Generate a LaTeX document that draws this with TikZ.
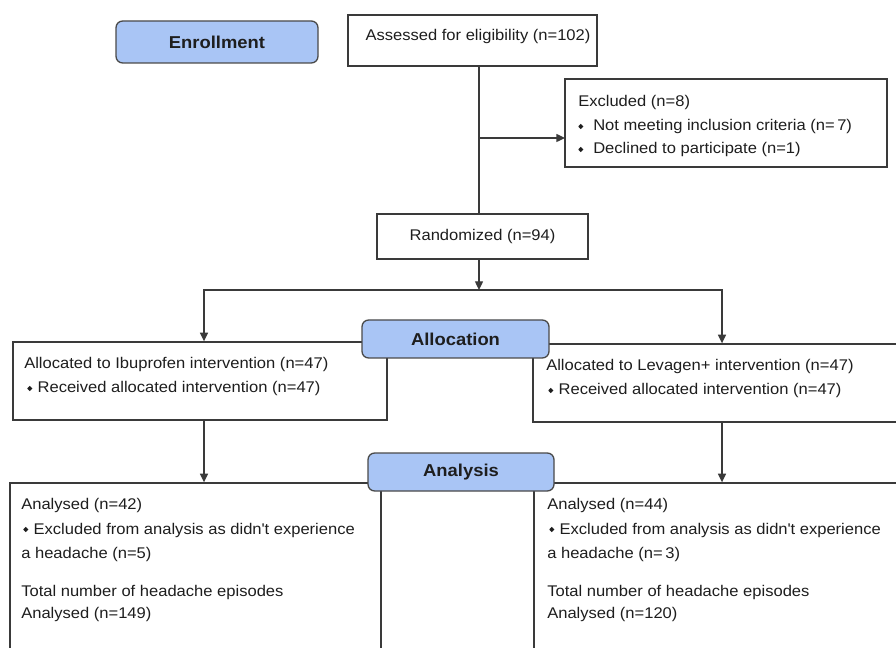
\documentclass[tikz,border=0pt]{standalone}
\usepackage{fontspec}
\setmainfont{Liberation Sans}[FakeStretch=1.07]
\usetikzlibrary{arrows.meta,fit}
\definecolor{hdfill}{HTML}{A9C5F5}
\definecolor{hddraw}{HTML}{4A4A4A}
\definecolor{ln}{HTML}{3A3A3A}
\definecolor{tx}{HTML}{1E1E1E}
\newcommand{\bul}[1]{\tikz[baseline=0pt,x=0.75pt,y=0.75pt]\fill[tx] (0,4.5) -- (2.5,7.2) -- (5,4.5) -- (2.5,1.8) -- cycle;\hspace{#1}}
\begin{document}
\begin{tikzpicture}[x=0.75pt,y=-0.75pt,
  box/.style={draw=ln, line width=1pt, inner sep=0pt},
  head/.style={draw=hddraw, fill=hdfill, line width=1pt, rounded corners=5pt, inner sep=0pt, text=tx, font=\bfseries\fontsize{12.9pt}{15pt}\selectfont},
  txt/.style={anchor=base west, inner sep=0pt, text=tx, font=\fontsize{11.6pt}{14pt}\selectfont},
  arr/.style={draw=ln, line width=1pt, -{Triangle[length=6.5pt,width=6pt]}},
  conn/.style={draw=ln, line width=1pt}]
\fill[white] (0,0) rectangle (896,648);
\clip (0,0) rectangle (896,648);
% boxes
\node[box, fit={(348,15)(597,66)}] (assess) {};
\node[box, fit={(565,79)(887,167)}] (excl) {};
\node[box, fit={(377,214)(588,259)}] (rand) {};
\node[box, fit={(13,342)(387,420)}] (allocL) {};
\node[box, fit={(533,344)(912,422)}] (allocR) {};
\node[box, fit={(10,483)(381,665)}] (anaL) {};
\node[box, fit={(534,483)(912,665)}] (anaR) {};
% texts
\node[txt, anchor=base] (tassess) at (478,41) {Assessed for eligibility (n=102)};
\node[txt] (te1) at (578,107) {Excluded (n=8)};
\node[txt] (te2) at (578,131) {\bul{7.5pt}Not meeting inclusion criteria (n=\,7)};
\node[txt] (te3) at (578,154) {\bul{7.5pt}Declined to participate (n=1)};
\node[txt, anchor=center] (trand) at (rand.center) {Randomized (n=94)};
\node[txt] (tl1) at (24,369) {Allocated to Ibuprofen intervention (n=47)};
\node[txt] (tl2) at (27,393) {\bul{4pt}Received allocated intervention (n=47)};
\node[txt] (tr1) at (546,371) {Allocated to Levagen+ intervention (n=47)};
\node[txt] (tr2) at (548,395) {\bul{4pt}Received allocated intervention (n=47)};
\node[txt] (al1) at (21,509) {Analysed (n=42)};
\node[txt] (al2) at (23,534) {\bul{4pt}Excluded from analysis as didn\textquotesingle t experience};
\node[txt] (al3) at (21,558) {a headache (n=5)};
\node[txt] (al4) at (21,596) {Total number of headache episodes};
\node[txt] (al5) at (21,618) {Analysed (n=149)};
\node[txt] (ar1) at (547,509) {Analysed (n=44)};
\node[txt] (ar2) at (549,534) {\bul{4pt}Excluded from analysis as didn\textquotesingle t experience};
\node[txt] (ar3) at (547,558) {a headache (n=\,3)};
\node[txt] (ar4) at (547,596) {Total number of headache episodes};
\node[txt] (ar5) at (547,618) {Analysed (n=120)};
% connectors
\coordinate (spine) at (479,0);
\coordinate (exclin) at (565,138);
\coordinate (split) at (479,290);
\coordinate (colL) at (204,0);
\coordinate (colR) at (722,0);
\draw[conn] (assess.south -| spine) -- (rand.north -| spine);
\draw[arr] (spine |- exclin) -- (exclin);
\draw[arr] (rand.south -| spine) -- (split);
\draw[arr] (split) -| (colL |- allocL.north);
\draw[arr] (split) -| (colR |- allocR.north);
\draw[arr] (colL |- allocL.south) -- (colL |- anaL.north);
\draw[arr] (colR |- allocR.south) -- (colR |- anaR.north);
% stage headings
\node[head, fit={(116,21)(318,63)}] (enr) {};
\node[txt, anchor=center, font=\bfseries\fontsize{12.9pt}{15pt}\selectfont] (tenr) at (enr.center) {Enrollment};
\node[head, fit={(362,320)(549,358)}] (allocH) {};
\node[txt, anchor=center, font=\bfseries\fontsize{12.9pt}{15pt}\selectfont] (tallocH) at (allocH.center) {Allocation};
\node[head, fit={(368,453)(554,491)}] (anaH) {};
\node[txt, anchor=center, font=\bfseries\fontsize{12.9pt}{15pt}\selectfont] (tanaH) at (anaH.center) {Analysis};
\end{tikzpicture}
\end{document}
